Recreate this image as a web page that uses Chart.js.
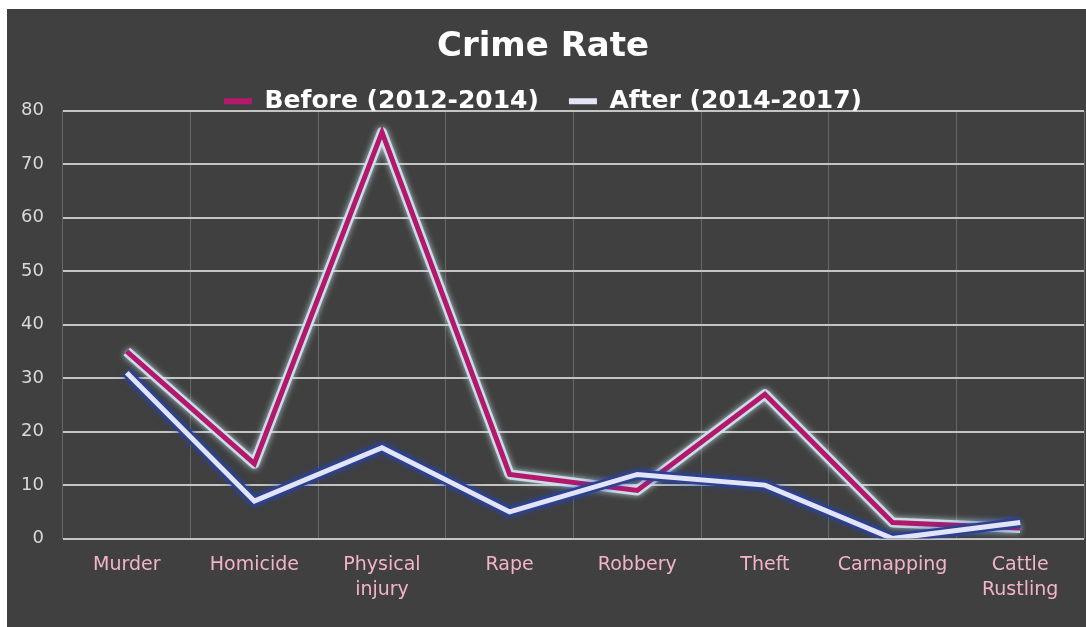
<!DOCTYPE html>
<html>
<head>
<meta charset="utf-8">
<script src="https://cdn.jsdelivr.net/npm/chart.js@4.4.1/dist/chart.umd.min.js"></script>
<style>
  html, body { margin: 0; padding: 0; background: #ffffff; }
  #wrap { position: absolute; left: 7px; top: 9px; width: 1079px; height: 618px; background: #404040; }
</style>
</head>
<body>
<div id="wrap"><canvas id="line-chart" width="1079" height="618"></canvas></div>
<script>
// Data for the chart
const categories = ['Murder', 'Homicide', ['Physical', 'injury'], 'Rape', 'Robbery', 'Theft', 'Carnapping', ['Cattle', 'Rustling']];
const beforeValues = [35, 14, 76, 12, 9, 27, 3, 2];
const afterValues = [31, 7, 17, 5, 12, 10, 0, 3];
const yTicks = [0, 10, 20, 30, 40, 50, 60, 70, 80];

const FONT = '"DejaVu Sans", sans-serif';
const BEFORE = '#b3186d';
const AFTER = '#e4e4f8';

// soft glow under the outline datasets
const glowPlugin = {
  id: 'glow',
  beforeDatasetDraw(chart, args) {
    const ds = chart.data.datasets[args.index];
    chart.ctx.save();
    if (ds.glowColor) {
      chart.ctx.shadowColor = ds.glowColor;
      chart.ctx.shadowBlur = 6;
    }
  },
  afterDatasetDraw(chart) {
    chart.ctx.restore();
  }
};

const data_line = {
  labels: categories,
  datasets: [
    {
      label: 'After (2014-2017)',
      data: afterValues,
      borderColor: AFTER,
      backgroundColor: AFTER,
      borderWidth: 5,
      pointRadius: 0,
      order: 0
    },
    {
      label: 'after-outline',
      data: afterValues,
      borderColor: '#2c4290',
      borderWidth: 10,
      borderJoinStyle: 'round',
      pointRadius: 0,
      glowColor: 'rgba(40,70,160,0.8)',
      order: 1
    },
    {
      label: 'Before (2012-2014)',
      data: beforeValues,
      borderColor: BEFORE,
      backgroundColor: BEFORE,
      borderWidth: 5,
      pointRadius: 0,
      order: 2
    },
    {
      label: 'before-outline',
      data: beforeValues,
      borderColor: 'rgba(210,230,238,0.9)',
      borderWidth: 10,
      borderJoinStyle: 'round',
      pointRadius: 0,
      glowColor: 'rgba(200,230,240,0.9)',
      order: 3
    }
  ]
};

const config_line = {
  type: 'line',
  data: data_line,
  plugins: [glowPlugin],
  options: {
    responsive: false,
    animation: false,
    layout: { padding: { left: -5, right: 2, top: 0, bottom: 11 } },
    plugins: {
      title: {
        display: true,
        text: 'Crime Rate',
        color: '#ffffff',
        font: { family: FONT, size: 34, weight: 'bold' },
        padding: { top: 18, bottom: -9 }
      },
      legend: {
        display: true,
        maxHeight: 52,
        labels: {
          color: '#ffffff',
          font: { family: FONT, size: 25, weight: 'bold' },
          boxWidth: 28,
          boxHeight: 6,
          padding: 30,
          filter: (item) => !item.text.includes('outline'),
          generateLabels(chart) {
            const items = Chart.defaults.plugins.legend.labels.generateLabels(chart);
            items.forEach(it => { it.lineWidth = 0; });
            // Before first, After second
            return items.sort((a, b) => b.datasetIndex - a.datasetIndex);
          }
        }
      },
      tooltip: { enabled: false }
    },
    scales: {
      x: {
        offset: true,
        grid: { offset: true, color: '#686868', lineWidth: 1, drawTicks: false },
        border: { display: false },
        ticks: {
          color: '#f4b3cb',
          font: { family: FONT, size: 19, lineHeight: 1.3 },
          padding: 14,
          maxRotation: 0
        }
      },
      y: {
        min: 0,
        max: 80,
        afterBuildTicks(axis) { axis.ticks = yTicks.map(v => ({ value: v })); },
        grid: { color: '#c4c4c4', lineWidth: 2, drawTicks: false },
        border: { display: false },
        ticks: {
          color: '#d9d9d9',
          font: { family: FONT, size: 18 },
          padding: 19
        }
      }
    }
  }
};

const canvas_line = document.getElementById('line-chart');
const lineChart = new Chart(canvas_line, config_line);
</script>
</body>
</html>
